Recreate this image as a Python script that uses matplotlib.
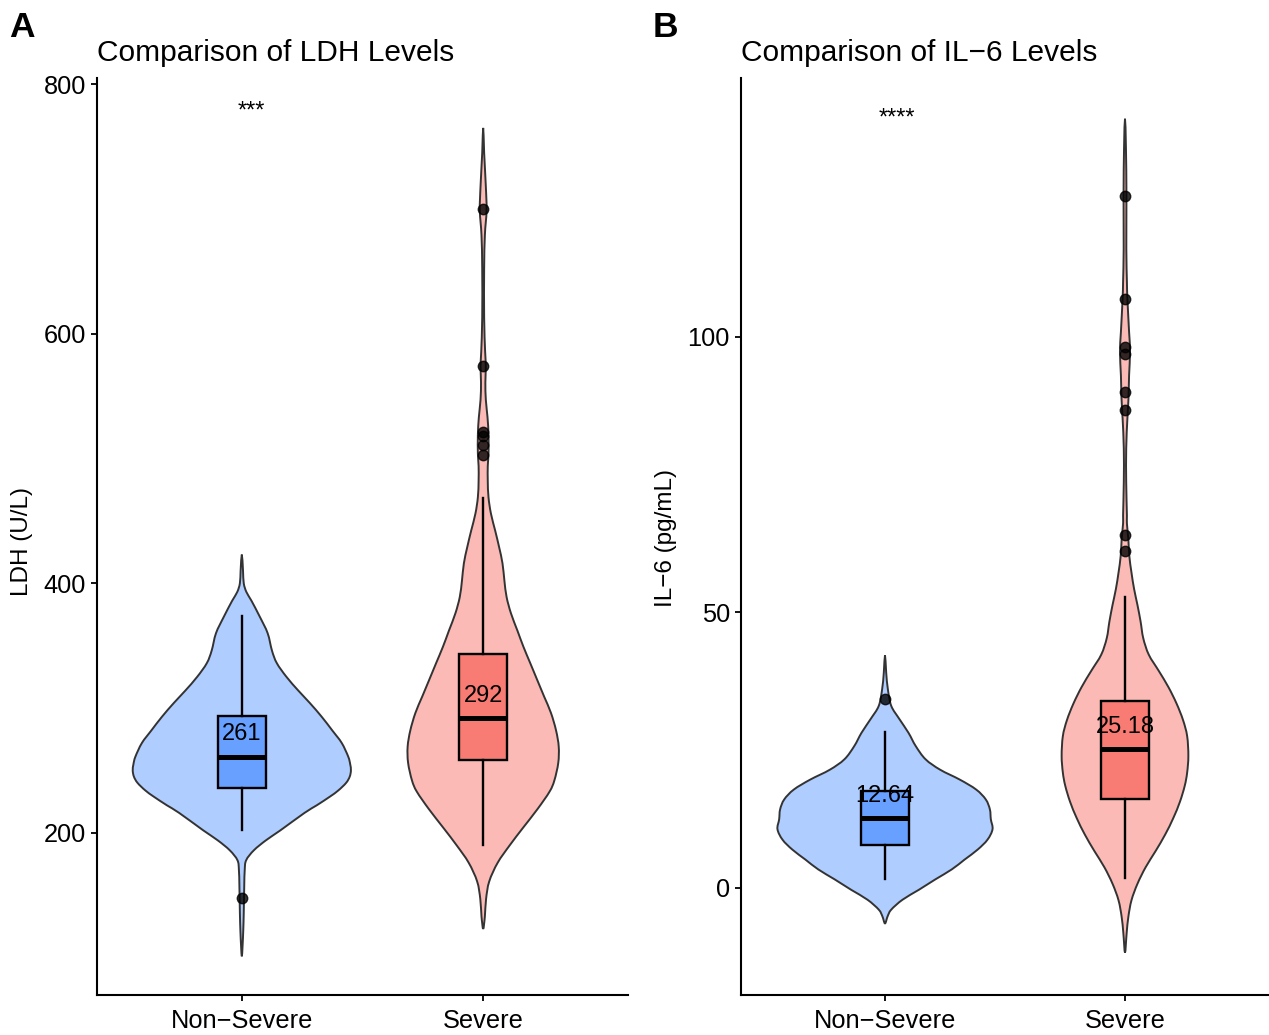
import numpy as np
import matplotlib
matplotlib.use("Agg")
import matplotlib.pyplot as plt
from matplotlib.path import Path
from matplotlib.patches import PathPatch
from matplotlib.colors import to_rgba

plt.rcParams['font.family'] = ['Liberation Sans', 'DejaVu Sans']

groups = ["Non\u2212Severe", "Severe"]
fills = ["#619CFF", "#F8766D"]

# box statistics
ldh_q1 = [236, 258]
ldh_median = [261, 292]
ldh_q3 = [294, 343]
ldh_whislo = [202, 190]
ldh_whishi = [374, 468]
ldh_outliers = [[148], [700, 574, 521, 518, 511, 503]]

il6_q1 = [7.8, 16.0]
il6_median = [12.64, 25.18]
il6_q3 = [17.6, 33.8]
il6_whislo = [1.6, 1.8]
il6_whishi = [28.2, 52.7]
il6_outliers = [[34.2], [125.6, 106.9, 98.1, 96.9, 89.9, 86.8, 64.0, 61.2]]

# violin outlines: level and half width (in category units)
ldh_ns_level = [423, 410, 400, 393, 386, 373, 360, 346, 336, 325, 314, 304, 293, 282,
                 272, 261, 255, 250, 245, 240, 234, 229, 222, 216, 202, 194, 186, 178,
                 170, 157, 136, 122, 109, 101]
ldh_ns_half = [0, 0.005, 0.008, 0.019, 0.040, 0.075, 0.107, 0.125, 0.145, 0.185, 0.234,
               0.282, 0.331, 0.375, 0.414, 0.441, 0.449, 0.452, 0.447, 0.432, 0.40,
               0.365, 0.31, 0.26, 0.16, 0.10, 0.05, 0.018, 0.012, 0.010, 0.008, 0.006,
               0.003, 0]

ldh_s_level = [765, 745, 718, 699, 679, 652, 613, 586, 574, 561, 547, 533, 519, 504, 494,
               482, 469, 456, 442, 429, 416, 402, 389, 376, 362, 349, 336, 322, 309, 296,
               282, 269, 256, 242, 233, 219, 204, 190, 176, 161, 147, 133, 123]
ldh_s_half = [0, 0.004, 0.011, 0.014, 0.007, 0.004, 0.004, 0.008, 0.011, 0.009, 0.011,
              0.018, 0.022, 0.022, 0.019, 0.019, 0.022, 0.032, 0.050, 0.066, 0.080, 0.088,
              0.097, 0.115, 0.142, 0.167, 0.195, 0.225, 0.253, 0.281, 0.302, 0.313, 0.311,
              0.295, 0.275, 0.225, 0.165, 0.110, 0.060, 0.025, 0.012, 0.007, 0]

il6_ns_level = [42.2, 39.0, 36.0, 33.0, 30.6, 28.1, 25.7, 23.3, 21.4, 19.6, 17.8, 16.0,
                14.2, 12.4, 10.6, 8.7, 6.9, 5.1, 3.3, 1.5, -0.4, -2.2, -4.0, -5.2, -6.5]
il6_ns_half = [0, 0.005, 0.012, 0.026, 0.060, 0.098, 0.128, 0.169, 0.230, 0.312, 0.380,
               0.420, 0.437, 0.441, 0.448, 0.427, 0.386, 0.332, 0.278, 0.210, 0.141, 0.073,
               0.026, 0.011, 0]

il6_s_level = [139.6, 134.2, 125.6, 116, 110, 106.9, 100.9, 97.3, 93, 88.8, 85.2, 79.7,
               73.6, 67.6, 66.1, 63.2, 60.2, 57.2, 54.2, 51.3, 48.3, 45.3, 42.3, 39.4,
               36.4, 33.4, 30.4, 27.5, 23.9, 20.9, 18.5, 15.6, 12.6, 9.6, 6.6, 3.7, 0.7,
               -2.3, -5.3, -8.2, -11.8]
il6_s_half = [0, 0.004, 0.006, 0.0055, 0.008, 0.010, 0.017, 0.021, 0.017, 0.0145, 0.010,
              0.005, 0.005, 0.008, 0.008, 0.014, 0.018, 0.027, 0.038, 0.052, 0.065, 0.076,
              0.099, 0.140, 0.181, 0.215, 0.242, 0.259, 0.264, 0.259, 0.249, 0.229, 0.201,
              0.167, 0.127, 0.086, 0.052, 0.027, 0.014, 0.007, 0]


def violin_patch(center, level, half, color):
    level = np.asarray(level, float)
    half = np.asarray(half, float)
    xs = np.concatenate([center + half, (center - half)[::-1][1:-1]])
    ys = np.concatenate([level, level[::-1][1:-1]])
    pts = np.column_stack([xs, ys])
    n = len(pts)
    verts, codes = [pts[0]], [Path.MOVETO]
    # closed catmull-rom through the outline points
    for i in range(n):
        p0, p1, p2, p3 = pts[(i - 1) % n], pts[i], pts[(i + 1) % n], pts[(i + 2) % n]
        verts += [p1 + (p2 - p0) / 6, p2 - (p3 - p1) / 6, p2]
        codes += [Path.CURVE4] * 3
    return PathPatch(Path(verts, codes), facecolor=to_rgba(color, 0.5),
                     edgecolor="#333333", linewidth=1.4, zorder=1)


def panel(ax, profiles, q1, med, q3, lo, hi, outl, ylim, yticks, ylabel, title,
          stars, star_x, star_y, letter, letter_x, lab_x, lab_y):
    for i, (lev, hw) in enumerate(profiles):
        ax.add_patch(violin_patch(i + 1, lev, hw, fills[i]))
    stats = [dict(med=med[i], q1=q1[i], q3=q3[i], whislo=lo[i], whishi=hi[i],
                  fliers=outl[i]) for i in range(2)]
    bp = ax.bxp(stats, positions=[1, 2], widths=0.2, patch_artist=True, showcaps=False,
                boxprops=dict(linewidth=1.7, edgecolor="black"),
                whiskerprops=dict(linewidth=1.7, color="black"),
                medianprops=dict(linewidth=3.6, color="black", solid_capstyle="butt"),
                flierprops=dict(marker="o", markersize=7.5, markerfacecolor="black",
                                markeredgecolor="black", alpha=0.8), zorder=2)
    for box, c in zip(bp["boxes"], fills):
        box.set_facecolor(to_rgba(c, 0.9))
    for i in range(2):
        ax.annotate(f"{med[i]:g}", (i + 1, med[i]), xytext=(0, 16),
                    textcoords="offset points", ha="center", va="center",
                    fontsize=17, zorder=4)
    ax.text(star_x, star_y, stars, ha="center", va="baseline", fontsize=17)
    ax.set_xlim(0.4, 2.6)
    ax.set_ylim(*ylim)
    ax.set_xticks([1, 2])
    ax.set_xticklabels(groups)
    ax.set_yticks(yticks)
    for s in ["top", "right"]:
        ax.spines[s].set_visible(False)
    for s in ["left", "bottom"]:
        ax.spines[s].set_linewidth(1.5)
    ax.tick_params(labelsize=18.3, length=4.5, width=1.3, colors="black")
    ax.tick_params(axis="x", pad=5.5)
    fig.text(lab_x, 1 - lab_y / 1035, ylabel, rotation=90, ha="center",
             va="center", fontsize=17.5)
    fig.text(ax.get_position().x0, 1 - 61 / 1035, title, fontsize=21.5, va="baseline")
    fig.text(letter_x, 1 - 37 / 1035, letter, fontsize=25.5, weight="bold", va="baseline")


fig = plt.figure(figsize=(12.69, 10.35), dpi=100)
axA = fig.add_axes([97 / 1269, 40 / 1035, 531 / 1269, 917 / 1035])
axB = fig.add_axes([741 / 1269, 40 / 1035, 528 / 1269, 917 / 1035])

panel(axA, [(ldh_ns_level, ldh_ns_half), (ldh_s_level, ldh_s_half)],
      ldh_q1, ldh_median, ldh_q3, ldh_whislo, ldh_whishi, ldh_outliers,
      (70, 805), [200, 400, 600, 800], "LDH (U/L)", "Comparison of LDH Levels",
      "***", 1.04, 773, "A", 9 / 1269, 22 / 1269, 541)
panel(axB, [(il6_ns_level, il6_ns_half), (il6_s_level, il6_s_half)],
      il6_q1, il6_median, il6_q3, il6_whislo, il6_whishi, il6_outliers,
      (-19.5, 147), [0, 50, 100], "IL\u22126 (pg/mL)", "Comparison of IL\u22126 Levels",
      "****", 1.05, 138.5, "B", 653 / 1269, 666 / 1269, 538)

fig.savefig("out.png", dpi=100)
